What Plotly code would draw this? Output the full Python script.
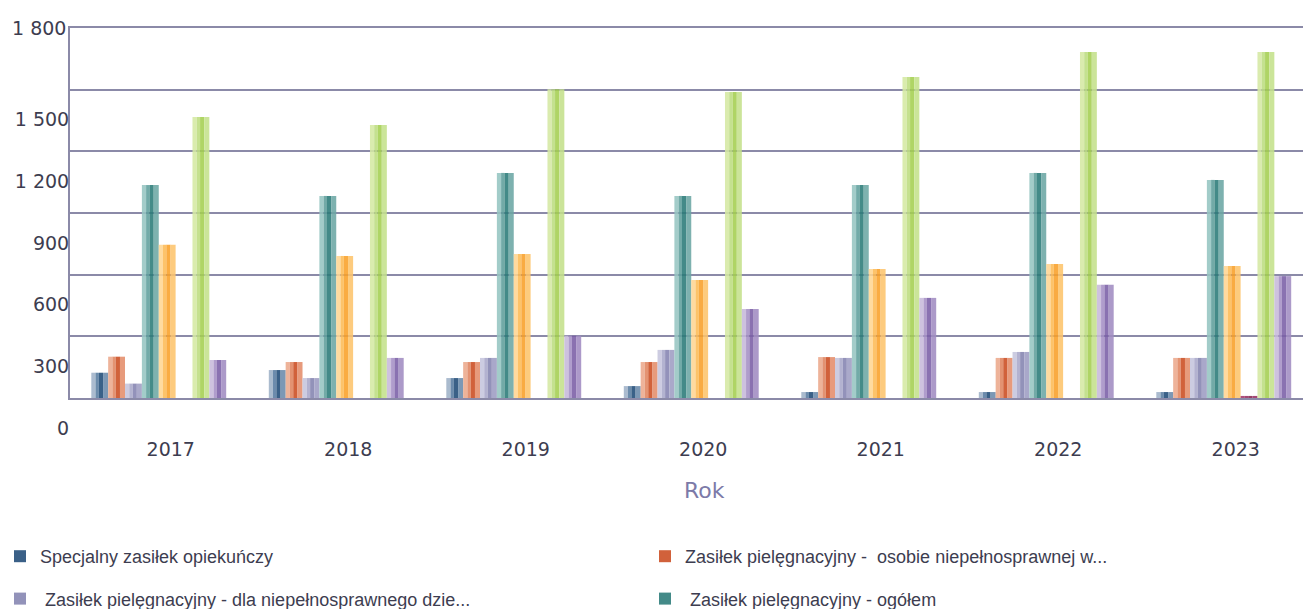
import plotly.graph_objects as go

# Kategorie (lata) i wartości serii
years = ["2017", "2018", "2019", "2020", "2021", "2022", "2023"]

specjalny_zasilek = [123, 136, 97, 58, 29, 29, 29]
zp_osobie_niepelnosprawnej = [201, 175, 175, 175, 199, 195, 195]
zp_dla_dziecka = [70, 97, 195, 234, 195, 224, 195]
zp_ogolem = [1036, 983, 1095, 983, 1036, 1095, 1061]
zp_75_lat = [746, 691, 700, 574, 628, 652, 642]
zasilek_dla_opiekuna = [0, 0, 0, 0, 0, 0, 10]
swiadczenia_ogolem = [1367, 1328, 1502, 1489, 1562, 1683, 1683]
swiadczenie_pielegnacyjne = [185, 195, 303, 433, 487, 551, 593]

y_ticks = [0, 300, 600, 900, 1200, 1500, 1800]
y_ticktext = ["0", "300", "600", "900", "1 200", "1 500", "1 800"]

# (nazwa, wartości, kolory pasków: jasny, średni, ciemny, średni 2, legenda)
series = [
    ("Specjalny zasiłek opiekuńczy", specjalny_zasilek,
     ("#9fb2c8", "#587ca1", "#1f4b77", "#6a8aab"), "legend"),
    ("Zasiłek pielęgnacyjny -  osobie niepełnosprawnej w...", zp_osobie_niepelnosprawnej,
     ("#eca98c", "#e0845f", "#cb4c20", "#e48d6a"), "legend2"),
    (" Zasiłek pielęgnacyjny - dla niepełnosprawnego dzie...", zp_dla_dziecka,
     ("#c6c5dd", "#a9a8ca", "#8483b0", "#9e9dc3"), "legend"),
    (" Zasiłek pielęgnacyjny - ogółem", zp_ogolem,
     ("#96c5c2", "#5f9f9c", "#2a7b78", "#6ca7a4"), "legend2"),
    ("Zasiłek pielęgnacyjny - osobie, która ukończyła...", zp_75_lat,
     ("#ffd692", "#fdbb55", "#f9a028", "#fdc46c"), "legend"),
    ("Zasiłek dla opiekuna", zasilek_dla_opiekuna,
     ("#a2386b", "#962f62", "#86264f", "#962f62"), "legend2"),
    ("Świadczenia opiekuńcze - ogółem", swiadczenia_ogolem,
     ("#d5e9a3", "#bddd80", "#a4cf50", "#c4e18b"), "legend"),
    ("Świadczenie pielęgnacyjne", swiadczenie_pielegnacyjne,
     ("#c7b9db", "#a590c5", "#7a5ea6", "#a18cc2"), "legend2"),
]

GROUP_WIDTH = 0.76
SLOT = GROUP_WIDTH / len(series)
# pionowe pasy w obrębie jednego słupka: (od, do, indeks koloru)
STRIPES = [(0.0, 0.25, 0), (0.25, 0.45, 1), (0.45, 0.70, 2), (0.70, 1.0, 3)]

AXIS_COLOR = "#8b8aa8"
TEXT_COLOR = "#3d3d50"
TICK_FONT = dict(family="DejaVu Sans, Verdana, sans-serif", size=19, color=TEXT_COLOR)
LEGEND_FONT = dict(family="Liberation Sans, Arial, sans-serif", size=18, color=TEXT_COLOR)

fig = go.Figure()
for k, (name, values, colors, legend_id) in enumerate(series):
    slot_start = -GROUP_WIDTH / 2 + k * SLOT
    for a, b, ci in STRIPES:
        fig.add_trace(go.Bar(
            x=years, y=values, name=name,
            offset=slot_start + a * SLOT, width=(b - a) * SLOT,
            marker=dict(color=colors[ci], line=dict(width=0)),
            opacity=0.88,
            legendgroup=name, legend=legend_id,
            showlegend=(ci == 2 and a == 0.45),
        ))

W, H = 1303, 700
PLOT_LEFT, PLOT_TOP, PLOT_BOTTOM = 70, 28, 398
CAT_PX = 177.5
x_max = -0.5 + (W - PLOT_LEFT) / CAT_PX
LEGEND_TOP = 538

fig.update_layout(
    width=W, height=H,
    margin=dict(l=PLOT_LEFT, r=0, t=PLOT_TOP, b=H - PLOT_BOTTOM, pad=0, autoexpand=False),
    barmode="overlay",
    plot_bgcolor="white", paper_bgcolor="white",
    xaxis=dict(
        type="category", range=[-0.5, x_max],
        showgrid=False, zeroline=False,
        showline=True, mirror=True, linecolor=AXIS_COLOR, linewidth=1.6,
        ticks="", tickfont=TICK_FONT, tickangle=0,
        ticklabelstandoff=33, ticklabelshift=12,
    ),
    yaxis=dict(
        range=[0, 1800], tickvals=y_ticks,
        ticktext=y_ticktext[:-1] + [""],
        showgrid=True, gridcolor=AXIS_COLOR, gridwidth=1.6,
        zeroline=False, showline=True, linecolor=AXIS_COLOR, linewidth=2,
        ticks="", tickfont=TICK_FONT, ticklabelshift=30, ticklabelstandoff=-5,
    ),
    legend=dict(
        xref="container", yref="container", x=0.0, y=1 - LEGEND_TOP / H,
        xanchor="left", yanchor="top", orientation="v",
        font=LEGEND_FONT, tracegroupgap=16, bgcolor="rgba(0,0,0,0)",
    ),
    legend2=dict(
        xref="container", yref="container", x=645 / W, y=1 - LEGEND_TOP / H,
        xanchor="left", yanchor="top", orientation="v",
        font=LEGEND_FONT, tracegroupgap=16, bgcolor="rgba(0,0,0,0)",
    ),
    annotations=[
        dict(text="1 800", xref="paper", yref="y", x=0, y=1800,
             xanchor="right", yanchor="middle", xshift=-2,
             showarrow=False, font=TICK_FONT),
        dict(text="Rok", xref="paper", yref="paper",
             x=(704 - PLOT_LEFT) / (W - PLOT_LEFT),
             y=(PLOT_BOTTOM - 491) / (PLOT_BOTTOM - PLOT_TOP),
             xanchor="center", yanchor="middle", showarrow=False,
             font=dict(family="DejaVu Sans, Verdana, sans-serif", size=22, color="#7c7aa8")),
    ],
)

fig.write_html("out.html", post_script="document.body.style.overflow='hidden';")
